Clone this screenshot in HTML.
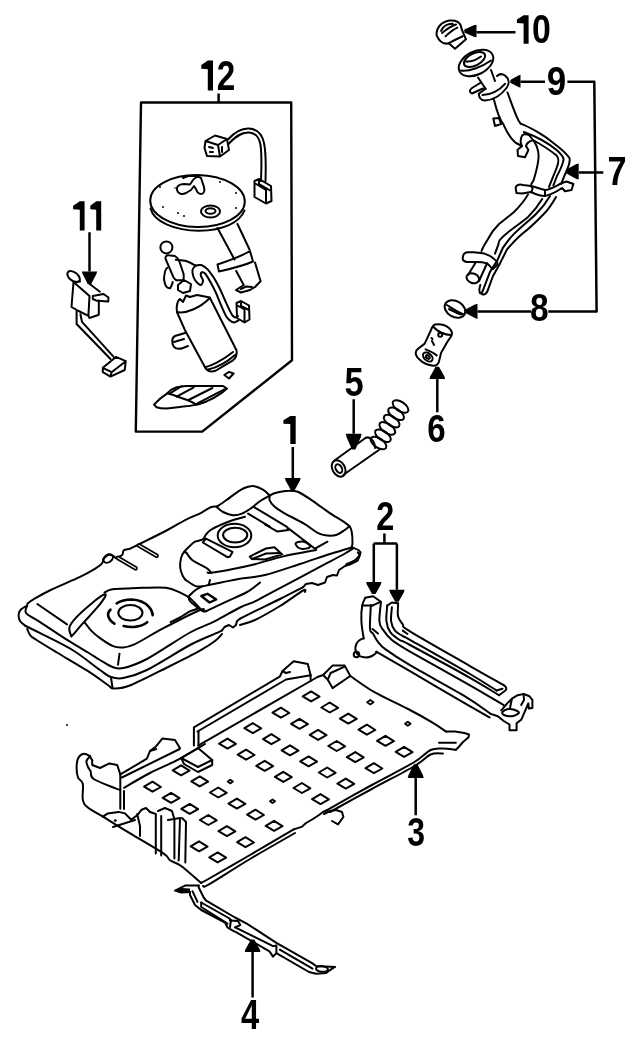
<!DOCTYPE html>
<html><head><meta charset="utf-8"><style>
html,body{margin:0;padding:0;background:#fff;}
svg{display:block;}
text{font-family:"Liberation Sans",sans-serif;font-weight:bold;}
</style></head><body>
<svg width="640" height="1044" viewBox="0 0 640 1044">
<rect width="640" height="1044" fill="#fff"/>
<g fill="none" stroke="#000" stroke-width="2" stroke-linejoin="round" stroke-linecap="round">
<!-- box 12 -->
<path stroke-width="2.4" d="M141,102.5 L291.2,102.5 L292,360.3 L202.2,431.6 L135.8,431.6 Z"/>
<!-- connector top-left -->
<path d="M205.5,141 L215,135.5 L227,139 L229,150 L220,156.5 L207,156 L204.5,148 Z M205.5,141 L218,145 L227,139 M218,145 L220,156.5"/>
<path d="M209,147 l4,1 M210,152 l3,0 M222,147 l0,5"/>
<!-- wire -->
<path d="M228.5,139 C234,133 240,128 249,128.5 C257,129 262,134 264,143 C266,152 266,165 265.5,181"/>
<path d="M228.5,144 C235,137 241,132 249,132.5 C256,133 259,137 260.5,145 C262,154 261.5,167 261,181"/>
<!-- right connector -->
<path d="M254.5,181 L259,179 L271,186 L271.5,201 L266,203.5 L254.5,197 Z M259,179 L259,184 L271,191 M254.5,183 L266,190 L266,203.5"/>
<!-- flange disk -->
<ellipse cx="197.5" cy="201" rx="47.3" ry="26" transform="rotate(1 197.5 201)"/>
<path d="M150.5,208.5 C154,222 175,230.5 199,230.8 C224,230.5 240,222 244.5,210.5"/>
<!-- outlet nozzle on flange -->
<path d="M177,190 C176,186 180,184 184,184 L190,184.5 L193,180 C195,177 199,176 201,178 L204,187 C205,191 204,194 201,194 C198,194 197,192 196,189 L194,186 L191,190 L186,193 C182,195 178,194 177,190 Z"/>
<path d="M183,178 L188,176 L197,176"/>
<!-- return ring -->
<ellipse cx="210.5" cy="211.5" rx="9.5" ry="6"/>
<ellipse cx="210.5" cy="211" rx="5" ry="2.8"/>
<!-- dots -->
<g fill="#000" stroke="none">
<circle cx="160" cy="187" r="1"/><circle cx="163" cy="207" r="1"/><circle cx="178" cy="213" r="1"/>
<circle cx="184" cy="216" r="1"/><circle cx="220" cy="182" r="1"/><circle cx="236" cy="193" r="1"/>
<circle cx="236" cy="208" r="1"/><circle cx="175" cy="188" r="0.8"/>
</g>
<!-- tube under flange -->
<path d="M217.5,228 L234.5,259.5 M237.5,224 L249.5,249.5"/>
<path d="M217.5,264.5 C228,261 240,257 250,251 L253,261.5 C243,266 230,269 219,271.5 Z"/>
<path d="M236.2,271 L243.7,285 M255,262.5 L260.6,281.2 L255,287 M243.7,285 L236,290 L241,292.5 L250,290 L255,287"/>
<path d="M241,289 L246,286.5 L252,287"/>
<!-- float -->
<circle cx="166.4" cy="247.4" r="6"/>
<path d="M165.6,259 C165,256.5 166.5,255 168.7,255.3 L175,256 C177.5,257.5 178.8,259.5 179.7,262.3 L183.6,274 C184,277.5 183.5,279.5 182.8,280.3 L176.6,280.3 C175,279.5 174,278.5 173.4,277.2 Z"/>
<path d="M175.8,259.8 C179,260 182,260.3 185.2,260.8 C188,261.5 191,263 193.7,264.7 L196,265.5"/>
<path d="M167.2,267.8 C165.5,269 164.5,272 164,278.7 C164.5,283 165.2,285.5 166.4,286.6 C168,288.3 170,288.5 170.3,288.1 C171.5,286 172.5,284 172.7,281.9"/>
<!-- small fitting -->
<path d="M178,285 L184,280 L191,284 L190,291 L183,293 L178,290 Z"/>
<!-- hose -->
<path d="M238.0,316.0 C237.7,316.2 236.9,317.6 236.0,317.5 C235.1,317.4 233.7,316.9 232.5,315.5 C231.3,314.1 230.4,311.9 229.0,309.0 C227.6,306.1 225.7,301.7 224.0,298.0 C222.3,294.3 220.7,290.3 219.0,287.0 C217.3,283.7 215.7,280.7 214.0,278.0 C212.3,275.3 210.3,272.7 209.0,271.0 C207.7,269.3 207.3,269.0 206.0,268.0 C204.7,267.0 202.8,265.3 201.0,265.0 C199.2,264.7 196.9,265.2 195.5,266.0 C194.1,266.8 192.8,268.2 192.5,270.0 C192.2,271.8 192.7,274.8 193.5,277.0 C194.3,279.2 196.2,281.7 197.5,283.0 C198.8,284.3 200.1,285.4 201.0,285.0 C201.9,284.6 203.0,282.1 203.0,280.5 C203.0,278.9 201.0,276.9 200.8,275.5 C200.6,274.1 201.2,272.6 202.0,272.3 C202.8,272.1 204.0,272.2 205.5,274.0 C207.0,275.8 209.2,279.8 211.0,283.0 C212.8,286.2 214.3,289.3 216.0,293.0 C217.7,296.7 219.3,301.2 221.0,305.0 C222.7,308.8 224.5,313.4 226.0,316.0 C227.5,318.6 228.7,319.4 230.0,320.5 C231.3,321.6 232.6,322.5 234.0,322.5 C235.4,322.5 237.8,320.8 238.5,320.5"/>
<!-- hose connector -->
<path d="M236.5,303 L241,301 L249,305.5 L249.5,319.5 L244.5,322.5 L237,318 Z M241,301 L241,306 L249,310 M236.5,305 L244.5,309.5 L244.5,322.5"/>
<!-- pump -->
<path d="M176.9,311.1 C176,305 178,300 180,299 L183,302 L186,295.5 L190,297 L197,295 L210,297.5 M176.9,312 C186,314 200,308 209.8,298 M176.9,312 L185.3,330.8 L205,367.3 C207,371 211,372.5 216,370.5 L233,360.3 C236,358 237,355 236.6,350.5 L210,298"/>
<path d="M205,367.3 C210,366 222,361 233,352"/>
<path d="M208,369.5 C215,368 226,363 235,355"/>
<!-- pump side bracket -->
<path d="M185,333 L175,336 C171,338 172,344 174,347 C176,349 180,349 183,348 L188,346"/>
<path d="M174,342 L184,339"/>
<!-- small part below pump -->
<path d="M224.3,375 L229,371.9 L233.6,373.5 L229,378.5 Z"/>
<!-- strainer -->
<path d="M154,404.6 C158,400 163,396 167.3,393.3 C170,390.5 173,388.5 176.6,387.3 L185.9,386 L223,386 L227,388.6 C224.5,391 222,393 219,394.6 C215,397.5 211,399.5 207,401.2 C203,402.7 200,403.8 196.5,404.6 C192,405.6 188,406.2 183.2,406.6 C177,407.5 171,408.3 166,408.6 C162,408.5 159,408 156.6,407.2 Z"/>
<path d="M167.3,393.3 C174,395 181,398 187.2,400 C190,401 192,401.8 196.5,404.6"/>
<path d="M170,393.3 L181.9,386 M176.6,396.6 L193.8,387.3 M188.5,400 L212.4,388 M196.5,403.9 L224.4,389.3"/>
<!-- part 11 -->
<ellipse cx="73.6" cy="276.6" rx="7.2" ry="4.2" transform="rotate(38 73.6 276.6)"/>
<path d="M73.5,282 L71.5,307 L78.6,311 L88.4,315.8 L89.5,318 L98.8,314.7 L98.8,300.5 M73.5,282 L80,281.5 M88.4,283 L99.9,291.7 M73.5,282 L89.5,296.1 L88.4,315.8"/>
<path d="M92.8,296 L103.5,294 L108.5,297.5 L108.2,301.6 L97,300.8 L92.8,299 Z"/>
<path d="M76.6,311 L76.6,324 L110.5,359 M80.4,314.2 L82,321.9 L113.7,356.9"/>
<path d="M102.8,367.8 L116,356.9 L125.8,361.2 L111.6,372.2 Z M102.8,367.8 L102.8,372.2 L110.5,376.6 L124.7,370 L125.8,361.2 M111.6,372.2 L110.5,376.6"/>
<!-- cap 10 -->
<path d="M436.6,35.4 C436,28 441,22 449.5,20.6 C455,20 459,22 460.5,24.9 L462,30 L466,39.3 L455,48.7 L448.8,43.3 C444,44.5 439.5,42 436.6,35.4 Z"/>
<path d="M441,30.8 C443,26 448,23.5 452.7,23.7 M445.6,36.2 C449,33 453,29.5 457.3,27.6 M448.8,43.3 C453,41 458,38 462.8,36.2 M442,33 C447,29 452,25.5 456,24.5"/>
<!-- filler neck top -->
<ellipse cx="476" cy="63" rx="18.5" ry="11.5" transform="rotate(-27 476 63)"/>
<ellipse cx="474.5" cy="59.5" rx="11.5" ry="6" transform="rotate(-27 474.5 59.5)"/>
<path d="M461,70.5 C468,72 482,67 491,60.5"/>
<path d="M466,61.5 C470,62 476,60 481,56.5"/>
<path d="M478,77.5 L485.6,88.8 M491,70 L495,81"/>
<!-- pin -->
<path d="M481,82.5 L472,88 C469,90 469.5,93 472,93.5 L483,88.5"/>
<!-- seal flange -->
<path d="M478.8,93.8 C479,98 481,100.5 485,100.5 C494,100 502,94 506.5,88 C509.5,84 509.5,79 505,75.5 C502,73.5 499,74 497,76 M482.5,95 C490,95 499,91 505,83.8 M478.8,93.8 L485.6,88.8"/>
<!-- main pipe upper -->
<path d="M494,100 C496,108 500,120 503.4,124.4 C506,130 510,139 516,143 L522,146"/>
<path d="M507.5,92.5 C510,99 513,108 516.7,116.6 C518,120 519,122 520.6,123.6"/>
<!-- nub -->
<path d="M493.3,118.5 L499,118 L501,124 L495,126 Z"/>
<!-- breather tube upper: outer -->
<path d="M520.6,123.6 C530,127 545,136 553.4,143 C560,148 566,153 569.5,158 C571,162 568,168 565,174.4 L561.2,183.8"/>
<path d="M523.8,132 C535,136 548,143 556.6,150 C560,153 563,156 563.6,159 C563,165 560,170 557,176 L553.4,185.3"/>
<path d="M533,140 C542,145 550,150 556.6,155.6 C559,158 559,162 556.6,168 L549,186.9"/>
<!-- clamp upper -->
<path d="M521.4,137 C522,134 526,133.5 529,135 L533,140 C530,141 527,142 526,146 L528.4,150 L525,157.2 L518,156 L517.5,150 C519,148 521,147 522,146 C520,143 520.5,140 521.4,137 Z"/>
<!-- main pipe mid (left edge) -->
<path d="M533,140 C536,143 538.6,150 538.6,156 C538.6,164 536,172 533.6,180.3 L531.2,184.2"/>
<path d="M528,194.4 C525,200 520,206 514,212 C508,217 503,221 499,224 C495,228 491,233 488,239 C485,244 483,247 481.5,251"/>
<!-- right group lower -->
<path d="M542.2,199 C538,206 534,211 528,217 C521,223 513,228 506,233.9 C501,238 498,242 498.6,243.8 L495,253.6"/>
<path d="M550,196 C546,203 542,208 536,214 C530,220 522,226 514,233.9 C508,240 505,245 502.8,248 L497.2,260.6 L490,271.9 L483,290.2 C482,293 481,294 480,293 C479,291 479,289 480.3,285"/>
<path d="M556,197 C552,204 548,210 543.8,214 C537,221 530,228 522,234 C515,240 511,245 507,249.4 L500,263.4 L493,276 L487.3,291.6 C486,294 484,295 482,294"/>
<!-- lower clamp (upper one around y=188) -->
<path d="M515.6,188 C516,185 519,184 523,185 L531,186 C536,187 540,189 545,190 C550,190 556,186 562,183 L566.5,181.5 L573.4,184 L571.5,190 L565,191.25 L562,188 C556,192 550,195 545,196 C540,196 535,194 531,192 L522,193.5 L516.5,193 Z"/>
<path d="M531,186 C533,188 533,190 531,192 M545,190 L545,196"/>
<!-- lower clamp at y 258 -->
<path d="M462.7,258 C463,254 465,252.2 468,252.2 L473.3,252.2 C478,252.5 481,253 484.5,253.6 C489,255 492,257 494.4,259.2 C497,261 498,263 497.2,264.8 L493,269 C491,268 489,265 487.3,263.4 C484,262.5 480,262 476,262 L467,262 C464,261.5 462.5,260 462.7,258 Z"/>
<!-- cylinder end -->
<path d="M476,262 L468,275 M487,263.5 L479,281"/>
<ellipse cx="472.8" cy="278.2" rx="6.5" ry="4.8" transform="rotate(20 472.8 278.2)"/>
<!-- grommet 8 -->
<ellipse cx="455" cy="309" rx="11" ry="8" transform="rotate(30 455 309)"/>
<path d="M447,305 C452,308 458,313 463,314"/>
<path d="M449,309 C453,311 458,314 461,314.5"/>
<!-- part 6 -->
<path d="M435.1,324.5 C440,323.5 446,325 449,328 C452,331 452.5,334 451.4,336 L448,340.8 L441.1,352.8 L439.4,359.7 C439,364 436,366 433.4,365.7 C428,365 423,363 420,360 C416,357 415,353 416.2,351 C417,349 420,347.5 424.8,343.4 L430.8,330.5 C432,327 433,325 435.1,324.5 Z"/>
<path d="M433.5,327 C437,331 444,335 451,335"/>
<ellipse cx="427.8" cy="357" rx="5.5" ry="3.6" transform="rotate(40 427.8 357)"/>
<ellipse cx="427.8" cy="357" rx="2.2" ry="1.4" transform="rotate(40 427.8 357)"/>
<path d="M425.6,349.4 C430,351 434,353 436.8,355.4 M432,341 L434,345 M431.5,338 l1,1"/>
<circle cx="440.2" cy="334.8" r="2"/>
<!-- part 5 hose -->
<ellipse cx="338.6" cy="468.4" rx="6.2" ry="8.8" transform="rotate(-30 338.6 468.4)"/>
<ellipse cx="338.8" cy="468.6" rx="3" ry="4.6" transform="rotate(-30 338.8 468.6)"/>
<path d="M334.5,460.5 L365.8,437.8 M343.5,474.8 L374.2,453.3"/>
<path d="M365.8,437.8 C370,436 375,441 375,448 M374.2,453.3 L379,450"/>
<ellipse cx="378.5" cy="443.0" rx="9" ry="4.6" transform="rotate(34 378.5 443.0)"/>
<ellipse cx="382.9" cy="435.7" rx="9" ry="4.6" transform="rotate(34 382.9 435.7)"/>
<ellipse cx="387.3" cy="428.4" rx="9" ry="4.6" transform="rotate(34 387.3 428.4)"/>
<ellipse cx="391.7" cy="421.1" rx="9" ry="4.6" transform="rotate(34 391.7 421.1)"/>
<ellipse cx="396.1" cy="413.8" rx="9" ry="4.6" transform="rotate(34 396.1 413.8)"/>
<ellipse cx="400.5" cy="406.5" rx="9" ry="4.6" transform="rotate(34 400.5 406.5)"/>
<!-- tank -->
<path d="M27.2,604.0 C28.2,603.2 29.5,601.7 33.4,599.4 C37.3,597.1 42.8,593.8 50.6,590.0 C58.4,586.2 72.5,580.5 80.0,576.9 C87.5,573.3 91.9,570.5 95.6,568.3 C99.2,566.1 100.6,565.1 101.9,563.6 C103.2,562.1 103.2,559.8 103.4,559.0"/>
<path d="M103.4,559.0 C104.2,558.3 106.5,555.5 108.1,555.0 C109.7,554.5 111.5,555.3 112.8,555.8 C114.1,556.3 115.4,557.7 115.9,558.1"/>
<path d="M115.9,558.1 C117.0,557.6 120.9,556.3 122.2,555.0 C123.5,553.7 122.4,551.3 123.7,550.3 C125.0,549.2 128.2,549.4 130.0,548.7 C131.8,548.1 132.6,547.4 134.7,546.4 C136.8,545.4 137.0,545.2 142.5,542.5 C148.0,539.8 160.3,533.8 167.5,530.0 C174.7,526.2 180.0,522.7 185.6,519.8 C191.2,516.9 197.0,514.9 201.2,512.8 C205.4,510.7 208.0,508.3 210.6,507.3 C213.2,506.3 215.8,506.7 216.9,506.6"/>
<ellipse cx="108.2" cy="558.5" rx="5.2" ry="3.6" transform="rotate(-35 108.2 558.5)"/>
<path d="M216.9,506.6 C218.4,505.6 223.1,502.5 226.2,500.3 C229.3,498.1 232.5,495.4 235.6,493.3 C238.7,491.2 241.9,489.0 245.0,487.8 C248.1,486.6 251.3,485.8 254.4,486.2 C257.5,486.6 261.1,488.6 263.7,490.2 C266.2,491.8 268.7,494.7 269.7,495.6"/>
<path d="M216.9,507.3 C217.9,508.1 220.5,510.7 223.1,512.0 C225.7,513.3 229.4,514.9 232.5,515.2 C235.6,515.5 238.8,514.8 241.9,513.6 C245.0,512.4 248.3,510.1 251.2,508.1 C254.0,506.2 255.9,504.0 259.0,501.9 C262.1,499.8 267.9,496.7 269.7,495.6"/>
<path d="M269.7,495.6 C270.5,495.2 272.1,494.0 274.4,493.3 C276.7,492.6 280.6,491.6 283.7,491.2 C286.8,490.8 290.5,490.8 293.1,491.0 C295.7,491.2 296.3,490.9 299.4,492.5 C302.5,494.1 306.7,496.8 311.9,500.3 C317.1,503.8 325.4,510.1 330.6,513.6 C335.8,517.1 340.0,519.3 343.1,521.4 C346.2,523.5 348.0,524.4 349.4,526.1 C350.8,527.8 351.2,528.9 351.7,531.6 C352.2,534.3 352.5,539.9 352.5,542.5 C352.5,545.1 351.8,546.4 351.7,547.2"/>
<path d="M269.7,495.6 C269.7,496.4 268.9,498.5 269.7,500.3 C270.5,502.1 272.1,504.5 274.4,506.6 C276.7,508.7 278.8,509.9 283.7,512.8 C288.6,515.6 298.3,520.3 304.0,523.7 C309.7,527.1 314.2,531.1 318.1,533.1 C322.0,535.1 324.4,535.2 327.5,535.5 C330.6,535.8 334.0,535.6 336.9,534.7 C339.8,533.8 342.6,531.4 344.7,530.0 C346.8,528.6 348.6,526.8 349.4,526.1"/>
<path d="M351.7,547.2 C352.9,547.7 357.3,549.3 358.7,550.3 C360.1,551.3 360.8,551.8 360.3,553.4 C359.8,555.0 358.0,557.9 355.6,559.7 C353.2,561.5 347.8,563.6 346.2,564.4"/>
<path d="M27.2,605.6 C26.1,606.2 22.3,607.9 20.9,609.5 C19.5,611.1 18.7,613.0 18.6,615.0 C18.5,617.0 19.0,619.4 20.2,621.2 C21.4,623.0 24.7,625.2 25.6,626.0"/>
<path d="M27.2,605.6 C26.9,606.4 25.6,608.9 25.6,610.3 C25.6,611.7 24.6,612.1 27.2,614.2 C29.8,616.3 35.0,618.8 41.2,622.8 C47.5,626.8 56.9,633.4 64.7,638.4 C72.5,643.4 82.2,648.9 88.1,652.5 C94.0,656.1 95.9,657.6 100.0,660.0 C104.1,662.4 108.6,665.7 112.5,667.0 C116.4,668.3 117.7,669.3 123.4,668.0 C129.1,666.7 135.8,664.9 146.9,659.0 C158.0,653.1 178.7,638.8 190.0,632.5 C201.3,626.2 206.7,625.4 215.0,621.2 C223.3,617.0 233.3,610.8 240.0,607.5 C246.7,604.2 250.0,603.8 255.0,601.4 C260.0,599.0 258.3,599.6 270.0,593.4 C281.7,587.2 312.5,570.9 325.0,564.2 C337.5,557.6 340.2,556.2 345.0,553.5 C349.8,550.8 352.2,548.9 353.7,548.0"/>
<path d="M25.6,626.0 C28.2,627.3 33.4,629.7 41.2,633.7 C49.0,637.7 62.7,644.0 72.5,650.0 C82.3,656.0 93.6,665.5 100.0,670.0 C106.4,674.5 107.0,675.7 110.9,677.0 C114.8,678.3 117.4,679.2 123.4,678.0 C129.4,676.8 135.8,675.5 146.9,670.0 C158.0,664.5 178.7,651.0 190.0,645.0 C201.3,639.0 209.7,636.1 215.0,633.7 C220.3,631.3 220.8,631.0 222.0,630.5"/>
<path d="M27.2,629.0 C27.7,630.0 28.7,633.5 30.3,635.3 C31.9,637.1 32.2,637.1 36.6,640.0 C41.0,642.9 48.3,647.3 56.9,652.5 C65.5,657.7 79.6,665.8 88.1,671.2 C96.6,676.6 103.5,682.1 107.8,685.0 C112.1,687.9 110.1,688.5 114.0,688.5 C117.9,688.5 121.9,688.8 131.2,685.0 C140.5,681.2 158.5,671.7 170.0,666.0 C181.5,660.3 192.5,654.8 200.0,650.6 C207.5,646.4 211.3,643.8 215.0,641.0 C218.7,638.2 220.8,635.2 222.0,634.0"/>
<path d="M110.9,677.0 L112.5,687.5"/>
<path d="M37.3,604.0 L67.0,624.4"/>
<path d="M71.0,635.3 C70.5,634.0 68.6,630.4 69.4,627.5 C70.2,624.6 71.7,622.3 75.6,618.1 C79.5,613.9 88.1,606.4 92.8,602.5 C97.5,598.6 101.6,595.8 103.7,594.7 C105.8,593.7 106.3,594.1 105.3,596.2 C104.3,598.3 101.4,602.5 97.5,607.2 C93.6,611.9 86.1,619.7 81.9,624.4 C77.7,629.1 74.3,633.5 72.5,635.3 C70.7,637.1 71.5,636.6 71.0,635.3 Z"/>
<path d="M118,558 L135.5,568.3 M139,545.6 L156.6,555.8" stroke-width="4.6"/>
<path d="M118,558 L135.5,568.3 M139,545.6 L156.6,555.8" stroke-width="1.2" stroke="#fff"/>
<path d="M104.5,592.5 C105.6,592.0 107.5,590.0 111.2,589.4 C114.9,588.8 121.7,588.9 126.9,588.6 C132.1,588.3 136.0,587.9 142.5,587.8 C149.0,587.7 159.7,587.0 165.9,587.8 C172.2,588.6 176.1,590.8 180.0,592.5 C183.9,594.2 186.0,595.1 189.4,597.8 C192.8,600.5 198.5,606.9 200.3,608.7"/>
<path d="M85.0,622.8 C86.0,624.1 88.7,628.0 91.2,630.6 C93.7,633.2 96.5,635.6 100.0,638.1 C103.5,640.6 108.8,644.3 112.5,645.9 C116.2,647.5 118.2,647.8 121.9,647.5 C125.6,647.2 127.6,647.5 134.4,644.4 C141.2,641.3 151.6,634.4 162.5,628.7 C173.4,623.0 193.2,612.9 200.0,610.0 C206.8,607.1 202.8,610.9 203.4,611.1"/>
<ellipse cx="130.4" cy="612.8" rx="12.1" ry="7.8"/>
<path d="M116.7,603.4 C122,600 127,599.5 131.6,599.5 C139,599.8 145,602.5 148.7,606.6 C151,609 152.5,612 152.7,615.2" stroke-width="2.6"/>
<path d="M110.5,609.7 C108.5,611.5 107.8,613.5 108.1,615.2 C108.6,618.5 111,621.5 114.4,623.7" stroke-width="2.6"/>
<path d="M123.7,626.1 C127,626.8 131,627.1 134.7,626.9 C139.5,626.4 144,624.8 147.2,622.2" stroke-width="2.6"/>
<path d="M188.5,596.5 C189.6,595.5 192.7,592.2 195.0,590.5 C197.3,588.8 201.2,586.9 202.5,586.2"/>
<path d="M188.5,596.5 C188.8,597.3 188.5,599.4 190.0,601.2 C191.5,603.0 195.4,605.8 197.5,607.5 C199.6,609.2 201.1,610.6 202.5,611.2 C203.9,611.8 205.6,611.2 206.2,611.2"/>
<path d="M206.2,611.2 C209.8,609.5 220.8,604.3 227.5,601.2 C234.2,598.1 241.6,595.0 246.2,592.5 C250.8,590.0 252.7,588.2 255.0,586.5 C257.3,584.8 259.2,583.2 260.0,582.5"/>
<path stroke-width="2.4" d="M201.3,596.0 L207.5,593.8 L216.2,599.5 L209.5,602.5 Z"/>
<path d="M180.0,617.5 L190.0,611.2 L197.5,608.7"/>
<path d="M185.6,580.0 C185.1,579.2 183.4,577.4 182.5,575.3 C181.6,573.2 180.4,570.4 180.2,567.5 C179.9,564.6 180.4,560.7 181.0,558.1 C181.6,555.5 182.4,554.0 184.0,551.9 C185.6,549.8 188.5,547.3 190.3,545.6 C192.1,543.9 192.9,542.7 195.0,541.7 C197.1,540.7 201.0,540.6 202.8,539.4 C204.6,538.2 204.6,536.3 205.9,534.7 C207.2,533.1 208.0,531.7 210.6,530.0 C213.2,528.3 217.7,526.2 221.6,524.5 C225.5,522.8 230.1,521.1 234.0,519.8 C237.9,518.5 243.2,517.2 245.0,516.7"/>
<path d="M184.7,552.5 C184.9,552.5 184.9,551.2 186.2,552.5 C187.5,553.8 189.1,557.7 192.5,560.3 C195.9,562.9 203.5,566.0 206.6,568.1 C209.7,570.2 210.4,572.0 211.2,572.8"/>
<path d="M207.5,572.5 C208.1,572.5 206.9,573.4 211.2,572.8 C215.5,572.2 225.8,570.3 233.1,568.9 C240.4,567.5 246.8,566.2 255.0,564.2 C263.2,562.2 272.1,559.0 282.3,556.6 C292.5,554.2 310.6,551.1 316.2,550.0"/>
<path d="M185.6,580.0 C187.3,581.0 192.8,585.1 195.6,586.1 C198.4,587.1 200.3,586.4 202.5,586.2 C204.7,586.0 205.6,585.6 208.7,585.0 C211.8,584.4 216.0,583.5 221.2,582.5 C226.4,581.5 232.7,580.0 240.0,578.7 C247.3,577.5 255.0,577.5 265.0,575.0 C275.0,572.5 289.2,567.5 300.0,564.0 C310.8,560.5 321.2,556.8 330.0,554.0 C338.8,551.2 348.8,548.3 352.5,547.2"/>
<path d="M210.0,580.0 L208.7,585.0"/>
<ellipse cx="234.5" cy="535.5" rx="16.8" ry="11.7"/>
<ellipse cx="235.2" cy="535.1" rx="12.1" ry="7.4"/>
<path d="M205.9,538.6 L232.5,551.9 L230.0,556.5 L227.8,557.3 L202.8,542.5 Z"/>
<path d="M248.1,513.6 L270.0,526.9"/>
<path d="M254.4,507.3 L265.0,513.6 L286.9,526.9 L288.4,530.0 L277.5,531.6 L265.0,524.5 L270.0,526.9"/>
<path d="M288.4,528.4 L315.0,548.7 L327.5,541.7"/>
<path d="M249.7,556.6 L266.0,548.5 L274.4,547.2 L282.2,554.4 L265.0,559.5 L252.0,559.0 Z"/>
<path d="M252.0,559.0 L266.0,553.5 L280.0,553.0"/>
<path d="M295.5,543.5 C295.7,542.5 298.2,541.9 300.0,541.7 C301.8,541.5 304.3,541.7 306.0,542.5 C307.7,543.3 310.5,545.5 310.3,546.5 C310.1,547.5 306.9,548.5 305.0,548.7 C303.1,549.0 300.6,548.9 299.0,548.0 C297.4,547.1 295.3,544.5 295.5,543.5 Z"/>
<path d="M222.0,630.5 L224.5,627.0 L229.0,625.0 L233.0,627.5 L236.0,625.0 L237.0,621.0 L240.0,618.7"/>
<path d="M240.0,618.7 C242.5,617.5 248.3,614.5 255.0,611.2 C261.7,607.9 272.0,603.0 280.0,599.0 C288.0,595.0 299.2,589.2 303.1,587.2"/>
<path d="M303.1,587.2 L306.0,584.0 L312.0,583.0 L318.0,585.0 L325.0,582.5 L327.0,577.0 L333.0,575.0 L337.0,575.5 L339.0,570.0 L345.0,566.0 L349.7,564.5 L357.8,560.5 L360.0,555.0 L357.8,552.3"/>
<path d="M240.0,625.0 C242.5,624.2 248.3,623.2 255.0,620.0 C261.7,616.8 272.0,610.9 280.0,606.0 C288.0,601.1 298.9,592.8 303.1,590.5 C307.3,588.2 304.7,591.8 305.0,592.0"/>
<path d="M119.5,653.7 L118.0,664.7"/>
<path d="M180.0,617.5 L170.6,622.2"/>
<!-- part 2 -->
<path d="M398.1,604.0 C398.1,606.1 397.3,613.2 398.1,616.6 C398.9,620.0 400.8,621.9 402.8,624.4 C404.8,626.9 398.8,624.4 410.0,631.4 C421.2,638.4 454.4,657.1 470.0,666.1 C485.6,675.1 498.1,682.0 503.7,685.2"/>
<path d="M503.7,685.2 C507,687 507,690 504.8,691 L499,695.2"/>
<path d="M391.9,607.2 C391.8,609.5 390.6,617.3 391.1,621.2 C391.6,625.1 392.8,628.0 395.0,630.6 C397.2,633.2 401.9,635.4 404.4,636.9 C406.9,638.4 399.1,633.6 410.0,639.8 C420.9,646.0 455.6,665.5 470.0,674.0 C484.4,682.5 492.2,687.8 496.6,690.5"/>
<path d="M496.6,690.5 L502.5,688.7"/>
<path d="M387.2,605.6 C387.1,608.2 385.9,616.8 386.4,621.2 C386.9,625.6 388.1,629.1 390.3,632.2 C392.5,635.3 396.4,637.9 399.7,640.0 C403.0,642.1 398.3,638.7 410.0,645.0 C421.7,651.3 455.2,669.4 470.0,677.8 C484.8,686.2 494.2,692.3 499.0,695.2"/>
<path d="M387.2,605.6 L391.9,602.5 L398.1,603.3"/>
<path d="M402.8,630.6 L407.5,634.0"/>
<path d="M380.9,602.5 C380.6,605.6 379.1,616.8 379.4,621.2 C379.7,625.6 380.4,625.9 382.5,629.0 C384.6,632.1 387.3,636.2 391.9,640.0 C396.5,643.8 397.0,644.1 410.0,651.6 C423.0,659.1 454.4,676.4 470.0,685.3 C485.6,694.2 498.1,701.8 503.7,705.1"/>
<path d="M370.8,605.6 C370.7,609.5 369.6,624.3 370.0,629.0 C370.4,633.7 371.8,631.6 373.1,633.7 C374.4,635.8 375.7,639.0 377.8,641.6 C379.9,644.2 380.2,645.5 385.6,649.4 C391.0,653.3 396.8,657.4 410.0,665.2 C423.2,673.0 451.5,688.2 465.0,696.3 C478.5,704.4 486.5,711.0 490.8,713.9"/>
<path d="M365.3,597.8 C364.8,599.1 362.9,601.7 362.2,605.6 C361.5,609.5 361.1,615.7 361.4,621.2 C361.6,626.7 363.3,635.5 363.7,638.4"/>
<path d="M376.2,651.7 C381.8,655.0 395.2,662.6 410.0,671.2 C424.8,679.8 451.7,695.7 465.0,703.4 C478.3,711.1 485.5,715.1 489.6,717.4"/>
<path d="M365.3,597.8 L373.1,596.2 L380.9,601.7 L372.3,605.6 L362.2,605.6"/>
<path d="M370.8,605.6 L372.3,605.6"/>
<path d="M372.5,629.0 L378.0,633.5"/>
<path d="M363.7,638.4 C357,640 354,646 356,652 C358,657 366,659 372,656 C376,654 377,652 376.2,651.7"/>
<circle cx="356.5" cy="654.5" r="2.8"/>
<path d="M490.8,713.9 L497.8,716.2 L503.7,721.0 L509.5,724.5 L509.5,730.3 L516.6,730.3 L516.6,723.3 L521.2,719.8 L524.8,711.6 L528.3,703.4 L528.9,708.6 L532.4,708.0 L532.4,699.8 L529.5,696.3 L523.6,694.0 L517.7,695.2 L511.9,698.7 L507.2,703.4 L501.3,710.4"/>
<path d="M502.5,712.0 C503.2,711.0 505.9,709.3 508.0,709.0 C510.1,708.7 513.2,709.3 515.0,710.0 C516.8,710.7 519.4,712.0 518.9,713.0 C518.4,714.0 514.5,715.9 512.0,716.2 C509.5,716.5 505.6,715.7 504.0,715.0 C502.4,714.3 501.8,713.0 502.5,712.0 Z"/>
<path d="M511.9,698.7 L510.0,708.0"/>
<path d="M523.6,694.0 L524.0,700.0 L521.2,705.0"/>
<!-- part 3 skid plate -->
<path stroke-width="2" d="M302.7,696.4 L311.1,691.4 L319.5,696.7 L311.1,701.4 Z M321.3,707.5 L329.7,702.5 L338.1,707.8 L329.7,712.5 Z M339.9,718.6 L348.3,713.6 L356.7,718.9 L348.3,723.6 Z M358.5,729.7 L366.9,724.7 L375.3,730.0 L366.9,734.7 Z M377.1,740.8 L385.5,735.8 L393.9,741.1 L385.5,745.8 Z M395.7,751.9 L404.1,746.9 L412.5,752.2 L404.1,756.9 Z M272.5,712.7 L280.9,707.7 L289.3,713.0 L280.9,717.7 Z M291.1,723.8 L299.5,718.8 L307.9,724.1 L299.5,728.8 Z M309.7,734.9 L318.1,729.9 L326.5,735.2 L318.1,739.9 Z M328.3,746.0 L336.7,741.0 L345.1,746.3 L336.7,751.0 Z M346.9,757.1 L355.3,752.1 L363.7,757.4 L355.3,762.1 Z M365.5,768.2 L373.9,763.2 L382.3,768.5 L373.9,773.2 Z M244.4,728.1 L252.8,723.1 L261.2,728.4 L252.8,733.1 Z M263.0,739.2 L271.4,734.2 L279.8,739.5 L271.4,744.2 Z M281.6,750.3 L290.0,745.3 L298.4,750.6 L290.0,755.3 Z M300.2,761.4 L308.6,756.4 L317.0,761.7 L308.6,766.4 Z M318.8,772.5 L327.2,767.5 L335.6,772.8 L327.2,777.5 Z M337.4,783.6 L345.8,778.6 L354.2,783.9 L345.8,788.6 Z M219.1,743.6 L227.5,738.6 L235.9,743.9 L227.5,748.6 Z M237.7,754.7 L246.1,749.7 L254.5,755.0 L246.1,759.7 Z M256.3,765.8 L264.7,760.8 L273.1,766.1 L264.7,770.8 Z M274.9,776.9 L283.3,771.9 L291.7,777.2 L283.3,781.9 Z M293.5,788.0 L301.9,783.0 L310.3,788.3 L301.9,793.0 Z M312.1,799.1 L320.5,794.1 L328.9,799.4 L320.5,804.1 Z M172.7,770.3 L181.1,765.3 L189.5,770.6 L181.1,775.3 Z M191.3,781.4 L199.7,776.4 L208.1,781.7 L199.7,786.4 Z M209.9,792.5 L218.3,787.5 L226.7,792.8 L218.3,797.5 Z M228.5,803.6 L236.9,798.6 L245.3,803.9 L236.9,808.6 Z M247.1,814.7 L255.5,809.7 L263.9,815.0 L255.5,819.7 Z M265.7,825.8 L274.1,820.8 L282.5,826.1 L274.1,830.8 Z M144.1,786.7 L152.5,781.7 L160.9,787.0 L152.5,791.7 Z M162.7,797.8 L171.1,792.8 L179.5,798.1 L171.1,802.8 Z M181.3,808.9 L189.7,803.9 L198.1,809.2 L189.7,813.9 Z M199.9,820.0 L208.3,815.0 L216.7,820.3 L208.3,825.0 Z M218.5,831.1 L226.9,826.1 L235.3,831.4 L226.9,836.1 Z M237.1,842.2 L245.5,837.2 L253.9,842.5 L245.5,847.2 Z M190.7,846.3 L199.1,841.3 L207.5,846.6 L199.1,851.3 Z M209.3,857.4 L217.7,852.4 L226.1,857.7 L217.7,862.4 Z"/>
<path stroke-width="1.8" d="M227.7,781.6 L230.3,779.8 L232.9,781.6 L230.3,783.4 Z M269.9,801.2 L272.5,799.4 L275.1,801.2 L272.5,803.0 Z M367.1,702.2 L370.3,700.0 L373.5,702.2 L370.3,704.4 Z M405.0,723.8 L407.8,721.8 L410.6,723.8 L407.8,725.8 Z"/>
<circle cx="115.3" cy="820.6" r="1.4" fill="#000" stroke="none"/><circle cx="67" cy="725" r="1" fill="#000" stroke="none"/>
<path d="M350.3,676.0 C354.3,678.7 364.8,686.7 374.4,692.2 C384.0,697.7 398.3,703.9 408.1,709.0 C417.9,714.1 427.1,719.3 433.4,723.1 C439.7,726.9 444.0,730.2 446.1,731.6"/>
<path d="M446.1,731.6 L455.0,731.5 L464.4,733.0 L469.0,734.5 L468.6,737.2 L463.0,742.0 L458.7,747.0 L455.9,749.8"/>
<path d="M439.0,742.8 L455.9,742.8"/>
<path d="M455.9,749.8 C453.8,749.6 447.2,748.5 443.0,748.5 C438.8,748.5 435.5,747.7 430.6,750.0 C425.7,752.3 423.8,756.5 413.7,762.5 C403.6,768.5 384.5,778.0 370.0,786.0 C355.5,794.0 333.8,806.2 326.6,810.3"/>
<path d="M443.0,753.5 C440.9,753.7 435.5,752.3 430.6,754.5 C425.7,756.7 423.8,760.6 413.7,766.5 C403.6,772.4 383.9,782.4 370.0,790.0 C356.1,797.6 336.7,808.3 330.0,812.0"/>
<path d="M326.6,810.3 L323.0,812.0 L319.0,815.0 L313.0,819.0 L306.0,823.0 L302.2,826.6 L293.7,829.4"/>
<path d="M293.7,829.4 C286.4,833.7 264.5,846.6 250.0,855.0 C235.5,863.4 214.8,875.4 206.6,880.0 C198.4,884.6 201.8,882.3 200.9,882.8"/>
<path d="M295.0,833.0 C287.5,837.3 264.3,850.5 250.0,859.0 C235.7,867.5 217.2,879.7 209.4,884.2 C201.6,888.7 204.1,885.7 203.0,886.0"/>
<path d="M324.0,814.0 L330.0,811.0 L336.0,810.0 L342.0,812.0 L343.4,817.0 L338.0,824.4 L332.0,821.0"/>
<path d="M200.9,882.8 C197.6,880.0 186.3,869.8 181.2,866.0 C176.0,862.2 173.0,862.4 170.0,860.3 C167.0,858.2 170.0,857.8 163.4,853.4 C156.8,849.0 140.7,839.8 130.6,833.7 C120.5,827.6 107.6,819.5 103.0,816.6"/>
<path d="M92.2,760.3 C91.7,759.5 90.6,756.6 89.0,755.6 C87.4,754.6 84.6,753.5 82.8,754.0 C81.0,754.5 79.0,756.4 78.0,758.7 C77.0,761.0 76.6,764.9 76.6,768.0 C76.6,771.1 77.0,774.9 78.0,777.5 C79.0,780.1 82.0,780.1 82.8,783.7 C83.6,787.4 82.0,795.5 82.8,799.4 C83.6,803.3 84.1,804.3 87.5,807.2 C90.9,810.1 100.4,815.0 103.0,816.6"/>
<path d="M90.2,756.1 C89.6,756.9 86.9,759.2 86.5,761.0 C86.1,762.8 87.3,765.3 88.0,767.0 C88.7,768.7 89.6,769.2 90.6,771.2 C91.5,773.2 89.5,776.1 93.7,779.0 C97.9,781.9 111.2,786.6 115.6,788.4 C120.0,790.2 119.5,789.7 120.3,790.0"/>
<path d="M92.2,760.3 L92.2,765.0 L100.0,768.0 L109.4,763.4 L117.2,765.0 L120.3,774.4 L120.3,790.0 L120.3,808.7"/>
<path d="M124.0,791.0 L124.0,809.0"/>
<path d="M120.3,774.4 L146.9,758.7 L150.0,751.0 L156.2,746.2 L162.5,738.4 L175.0,740.0 L179.7,747.8"/>
<path d="M121.9,777.5 L179.7,749.0 L179.7,747.8"/>
<path d="M150.0,751.0 L156.2,749.0"/>
<path d="M124.0,787.8 C128.3,785.3 140.9,777.7 150.0,773.0 C159.1,768.3 169.5,764.2 178.7,759.4 C187.9,754.6 200.6,746.6 205.0,744.0"/>
<path d="M181.2,758.0 L198.0,748.0 L212.2,760.0 L198.0,767.0 L181.2,758.0"/>
<path d="M181.2,758.0 L184.0,764.0 L198.0,772.0 L212.2,765.0 L212.2,760.0"/>
<path d="M193.9,745.6 L193.9,727.3 L279.7,676.7 L282.5,671.1 L293.7,661.2 L307.8,664.1 L310.6,675.3"/>
<path d="M197.5,731.5 L286.0,679.5 L310.6,675.3"/>
<path d="M198.5,745.6 L198.5,731.5"/>
<path d="M198.1,745.6 L310.6,681.0 L310.6,675.3"/>
<path d="M282.5,671.1 L286.0,673.0 L290.0,672.0"/>
<path d="M323.1,675.0 L332.5,665.6 L344.7,665.6 L350.3,676.0 L332.5,688.1 L327.8,679.7 L323.1,675.0"/>
<path d="M327.8,679.7 L330.6,673.0 L344.7,666.6"/>
<path d="M310.6,681.0 L317.5,677.0 L323.1,675.0"/>
<path d="M103.0,816.6 L107.8,813.4 L118.7,811.9 L125.0,813.4 L131.2,819.7 L137.5,815.0 L141.6,809.7 L146.0,808.0 L150.0,812.0"/>
<path d="M113.0,827.0 L135.0,820.0"/>
<path d="M137.2,814.0 L140.0,826.0 L140.0,836.0"/>
<path d="M150.0,812.0 L155.8,814.0 L155.8,853.4"/>
<path d="M161.2,816.0 L161.2,855.5"/>
<path d="M158.0,811.0 L165.0,808.0 L172.0,811.0 L174.4,819.0 L174.4,858.5"/>
<path d="M174.4,819.0 L180.0,818.0 L178.7,860.5"/>
<path d="M182.0,818.0 L186.0,822.0 L185.3,862.5"/>
<path d="M168.0,820.0 L174.4,819.0"/>
<!-- part 4 -->
<path d="M190.0,892.0 L181.2,892.5 L175.0,890.6 L185.0,885.6 L198.7,885.6"/>
<path fill="#000" stroke="none" d="M176,890.5 L181,888 L190,888.5 L190,892.5 L181,892.5 Z"/>
<path d="M198.7,885.6 L198.7,887.5 L203.7,897.5 L206.2,900.6 L235.0,917.5 L247.2,923.9 L276.4,942.8 L312.5,963.4 L316.0,966.0 L334.8,966.9"/>
<path d="M190.0,892.0 L190.0,895.0 L195.0,905.0 L201.2,910.0 L225.0,922.5 L227.5,927.5 L233.7,931.2 L235.2,931.6 L269.5,951.4 L273.0,956.6 L276.4,953.1 L309.0,972.0 L316.0,973.7 L326.2,972.9 L329.7,970.3 L334.8,966.9"/>
<path d="M192.5,891.2 L197.5,901.9"/>
<path d="M201.2,902.5 L228.7,918.0 L231.0,920.0 L230.0,927.0"/>
<path d="M201.2,902.5 L201.2,907.0 L227.5,923.7"/>
<path d="M235.2,927.3 L273.0,946.2 L276.4,945.4 L276.4,953.1"/>
<path d="M279.8,949.7 L312.5,968.6"/>
<path d="M230.0,920.5 L238.0,921.0 L240.3,925.0 L235.2,927.3"/>
<ellipse cx="322" cy="969" rx="6" ry="2.8" transform="rotate(5 322 969)"/>
<g fill="#000" stroke="none">
<path d="M476.5,24.7 L473.8,25.3 L464.3,29.6 L464.3,32.4 L473.8,36.7 L476.5,37.3 Z"/>
<path d="M520.5,74.8 L518.3,75.5 L510.3,79.9 L510.3,82.7 L518.3,87.1 L520.5,87.8 Z"/>
<path d="M578.7,163.5 L575.9,164.3 L566.0,169.7 L566.0,173.3 L575.9,178.7 L578.7,179.5 Z"/>
<path d="M477.5,303.7 L474.9,304.5 L465.5,309.6 L465.5,313.0 L474.9,318.1 L477.5,318.9 Z"/>
<path d="M81.8,271.4 L82.6,274.1 L87.8,283.9 L91.2,283.9 L96.4,274.1 L97.2,271.4 Z"/>
<path d="M345.8,433.7 L346.6,437.2 L352.0,449.5 L355.4,449.5 L360.8,437.2 L361.6,433.7 Z"/>
<path d="M429.5,379.0 L430.3,376.3 L435.6,366.8 L439.0,366.8 L444.3,376.3 L445.1,379.0 Z"/>
<path d="M284.9,478.0 L285.7,480.8 L291.1,490.6 L294.5,490.6 L299.9,480.8 L300.7,478.0 Z"/>
<path d="M366.1,582.0 L366.9,584.7 L372.1,594.1 L375.5,594.1 L380.7,584.7 L381.5,582.0 Z"/>
<path d="M389.2,589.7 L390.0,592.4 L395.2,601.8 L398.6,601.8 L403.8,592.4 L404.6,589.7 Z"/>
<path d="M407.7,778.1 L408.5,775.1 L413.9,764.3 L417.5,764.3 L422.9,775.1 L423.7,778.1 Z"/>
<path d="M244.7,952.1 L245.5,949.3 L250.9,939.5 L254.3,939.5 L259.7,949.3 L260.5,952.1 Z"/>
</g>
<path stroke-width="2.5" stroke-linecap="butt" d="M515.5,32.2 L476.5,32.2 M545.0,81.7 L520.5,81.7 M567.4,81.8 L594.3,81.8 L596.6,311.6 L548.3,311.6 M603.3,172.5 L578.7,172.5 M531.0,311.6 L477.5,311.6 M89.5,232.3 L89.5,271.4 M218.6,93.4 L218.6,101.9 M353.7,399.2 L353.7,433.7 M437.3,412.3 L437.3,379.0 M292.8,447.0 L292.8,478.0 M384.4,533.5 L384.4,543.5 M373.8,543.5 L396.9,543.5 M373.8,543.5 L373.8,582.0 M396.9,543.5 L396.9,589.7 M415.7,815.2 L415.7,778.1 M252.6,997.4 L252.6,952.1"/>
</g>
<g fill="#000" stroke="none" style="will-change:transform">
<path d="M207.8,60.6 L213.0,60.6 L213.0,90.4 L207.8,90.4 L207.8,69.2 L201.3,68.8 L201.3,65.1 Z"/>
<text transform="translate(216.70,90.40) scale(0.781,1)" font-size="42.57">2</text>
<path d="M523.6,15.2 L528.6,15.2 L528.6,43.8 L523.6,43.8 L523.6,23.5 L516.9,23.1 L516.9,19.5 Z"/>
<text transform="translate(531.95,43.35) scale(0.841,1)" font-size="40.21">0</text>
<text transform="translate(546.80,94.79) scale(0.860,1)" font-size="40.70">9</text>
<text transform="translate(607.53,184.90) scale(0.847,1)" font-size="40.44">7</text>
<text transform="translate(530.09,320.51) scale(0.855,1)" font-size="39.30">8</text>
<path d="M79.8,201.3 L84.6,201.3 L84.6,230.5 L79.8,230.5 L79.8,209.8 L73.1,209.3 L73.1,205.7 Z"/>
<path d="M96.2,201.3 L101.2,201.3 L101.2,230.5 L96.2,230.5 L96.2,209.8 L90.3,209.3 L90.3,205.7 Z"/>
<text transform="translate(427.28,442.30) scale(0.834,1)" font-size="39.72">6</text>
<text transform="translate(344.46,396.40) scale(0.856,1)" font-size="40.29">5</text>
<path d="M290.3,416.0 L295.7,416.0 L295.7,444.0 L290.3,444.0 L290.3,424.1 L283.4,423.7 L283.4,420.2 Z"/>
<text transform="translate(376.13,530.20) scale(0.794,1)" font-size="40.86">2</text>
<text transform="translate(407.26,845.79) scale(0.775,1)" font-size="41.27">3</text>
<text transform="translate(240.94,1029.00) scale(0.768,1)" font-size="42.75">4</text>
</g>
</svg></body></html>
